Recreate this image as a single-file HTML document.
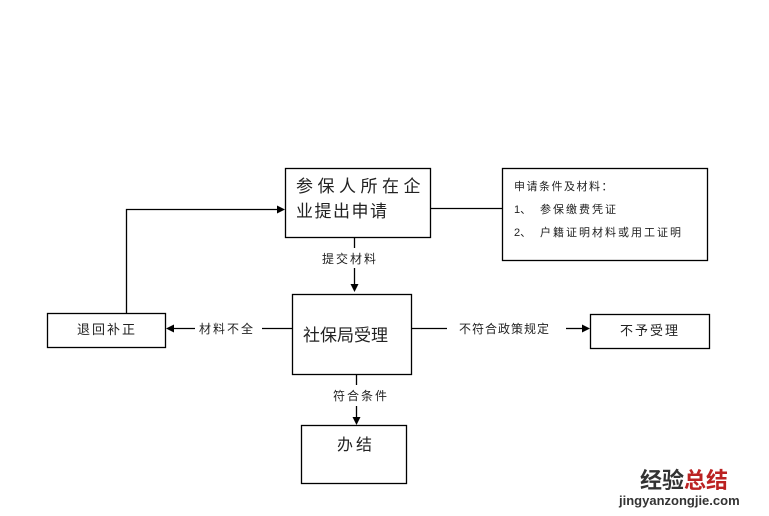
<!DOCTYPE html>
<html><head><meta charset="utf-8"><style>
html,body{margin:0;padding:0;background:#fff;}
svg{display:block;}
text{font-family:"Liberation Sans","Noto Sans CJK SC",sans-serif;fill:#222;}
</style></head><body>
<svg width="769" height="516" viewBox="0 0 769 516" xmlns="http://www.w3.org/2000/svg">
<g fill="none" stroke="#000" stroke-width="1.3">
<rect x="285.5" y="168.5" width="145" height="69"/>
<rect x="502.5" y="168.5" width="205" height="92"/>
<rect x="292.5" y="294.5" width="119" height="80"/>
<rect x="47.5" y="313.5" width="118" height="34"/>
<rect x="590.5" y="314.5" width="119" height="34"/>
<rect x="301.5" y="425.5" width="105" height="58"/>
<path d="M430 208.5H502"/>
<path d="M126.5 313V209.5H278"/>
<path d="M354.5 237V248"/>
<path d="M354.5 268V284"/>
<path d="M292 328.5H262"/>
<path d="M195 328.5H174"/>
<path d="M411 328.5H447"/>
<path d="M566 328.5H582"/>
<path d="M356.5 374V385"/>
<path d="M356.5 406V417"/>
</g>
<g fill="#000">
<path d="M285 209.5l-8-4v8z"/>
<path d="M354.5 292l-4-8h8z"/>
<path d="M166 328.5l8-4v8z"/>
<path d="M590 328.5l-8-4v8z"/>
<path d="M356.5 425l-4-8h8z"/>
</g>
<text x="296" y="192" font-size="17" letter-spacing="4.5">参保人所在企</text>
<text x="296" y="217" font-size="17" letter-spacing="1.5">业提出申请</text>
<text x="514" y="190" font-size="11" letter-spacing="1.5">申请条件及材料：</text>
<text x="514" y="213" font-size="11">1、</text>
<text x="540" y="213" font-size="11" letter-spacing="2">参保缴费凭证</text>
<text x="514" y="236" font-size="11">2、</text>
<text x="540" y="236" font-size="11" letter-spacing="2">户籍证明材料或用工证明</text>
<text x="322" y="263" font-size="12" letter-spacing="2">提交材料</text>
<text x="303" y="341" font-size="17">社保局受理</text>
<text x="77" y="334" font-size="13" letter-spacing="2">退回补正</text>
<text x="199" y="333" font-size="12" letter-spacing="2">材料不全</text>
<text x="459" y="333" font-size="12" letter-spacing="1">不符合政策规定</text>
<text x="620" y="335" font-size="13" letter-spacing="2">不予受理</text>
<text x="333" y="400" font-size="12" letter-spacing="2">符合条件</text>
<text x="337" y="450" font-size="16" letter-spacing="3">办结</text>
<text x="640" y="488" font-size="22" font-weight="bold" style="fill:#333">经验<tspan style="fill:#b22">总结</tspan></text>
<text x="619" y="505" font-size="13" font-weight="bold" style="fill:#333">jingyanzongjie.com</text>
</svg>
</body></html>
